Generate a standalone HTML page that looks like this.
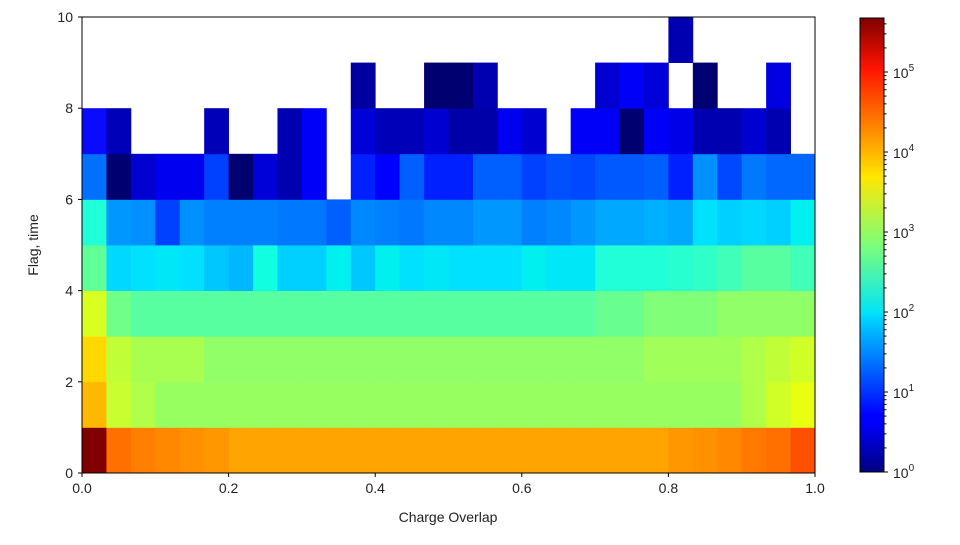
<!DOCTYPE html>
<html><head><meta charset="utf-8"><style>
body{margin:0;background:#fff;}
svg text{font-family:"Liberation Sans",sans-serif;fill:#222;}
</style></head><body>
<svg id="s" width="960" height="540" xmlns="http://www.w3.org/2000/svg">
<defs><linearGradient id="jet" x1="0" y1="1" x2="0" y2="0">
<stop offset="0" stop-color="#00007f"/><stop offset="0.11" stop-color="#0000ff"/>
<stop offset="0.125" stop-color="#0000ff"/><stop offset="0.34" stop-color="#00d4ff"/>
<stop offset="0.35" stop-color="#00e4f8"/><stop offset="0.5" stop-color="#7dff7a"/>
<stop offset="0.65" stop-color="#ffe600"/><stop offset="0.89" stop-color="#ff1300"/>
<stop offset="1" stop-color="#7f0000"/></linearGradient></defs>
<g id="cells"></g>
<rect x="82" y="17" width="733" height="456" fill="none" stroke="#000" stroke-width="1"/>
<rect x="860" y="18" width="24" height="454" fill="url(#jet)" stroke="#000" stroke-width="1"/>
<g id="ax"></g>
<text x="448" y="522" font-size="14" text-anchor="middle">Charge Overlap</text>
<text transform="translate(38,245) rotate(-90)" font-size="14" text-anchor="middle">Flag, time</text>
</svg>
<script>
const E=null;
const rows=[
// row0
["#800000","#ff7000","#ff8000","#ff8800","#ff9000","#ff9800"].concat(Array(18).fill("#ffa400")).concat(["#ff9800","#ff9000","#ff8800","#ff7800","#ff7000","#ff5000"]),
// row1
["#ffb800","#c8ff30","#b0ff48"].concat(Array(24).fill("#98ff60")).concat(["#b0ff48","#d0ff28","#e8ff10"]),
// row2
["#ffd800","#c0ff38","#a8ff50","#a8ff50","#a8ff50"].concat(Array(18).fill("#90ff68")).concat(["#a0ff58","#a0ff58","#a0ff58","#a0ff58","#b0ff48","#c0ff38","#d0ff28"]),
// row3
["#d8ff20","#70ff88"].concat(Array(19).fill("#58ffa0")).concat(["#68ff90","#68ff90","#80ff78","#80ff78","#80ff78","#90ff68","#90ff68","#90ff68","#90ff68"]),
// row4
["#60ff98","#00d8ff","#00e0ff","#00e8f8","#00e0ff","#00c8ff","#00b8ff","#10ffe0","#00d0ff","#00d0ff","#00f0f0","#00c8ff","#00f0f0","#00e0ff","#00e8f8","#00e0ff","#00e0ff","#00e0ff","#00f0f0","#00e8f8","#00e8f8","#20ffd8","#20ffd8","#20ffd8","#28ffd0","#30ffc8","#40ffb8","#58ffa0","#58ffa0","#40ffb8"],
// row5
["#20ffd8","#0098ff","#0090ff","#0040ff","#0090ff","#0080ff","#0080ff","#0080ff","#0078ff","#0078ff","#0060ff","#0088ff","#0080ff","#0078ff","#0088ff","#0088ff","#0098ff","#0098ff","#0080ff","#0088ff","#0098ff","#00a8ff","#00a8ff","#00b0ff","#00a8ff","#00e0ff","#00d0ff","#00d8ff","#00d0ff","#00f0f0"],
// row6
["#0070ff","#000070","#0000d0","#0000f0","#0000f0","#0040ff","#000070","#0000d8","#0000b0","#0000f8",E,"#0020ff","#0000ff","#0060ff","#0020ff","#0020ff","#0060ff","#0060ff","#0040ff","#0050ff","#0048ff","#0058ff","#0058ff","#0060ff","#0020ff","#0090ff","#0048ff","#0078ff","#0068ff","#0068ff"],
// row7
["#0a0aff","#0000b8",E,E,E,"#0000b8",E,E,"#0000b0","#0000f8",E,"#0000d8","#0000b8","#0000b8","#0000d0","#0000a8","#0000a8","#0000f0","#0000d0",E,"#0000f8","#0000f8","#000070","#0000f8","#0000e8","#0000b0","#0000b0","#0000d0","#0000b0",E],
// row8
[E,E,E,E,E,E,E,E,E,E,E,"#0000a0",E,E,"#000070","#000070","#0000b0",E,E,E,E,"#0000d0","#0000f8","#0000d8",E,"#000070",E,E,"#0000e0",E],
// row9
Array(24).fill(E).concat(["#0000b0",E,E,E,E,E])
];
let h='';const cw=733/30,rh=45.6;
rows.forEach((r,j)=>r.forEach((c,i)=>{if(c){const x=82+i*cw,y=473-(j+1)*rh;
h+=`<rect x="${x.toFixed(2)}" y="${y.toFixed(2)}" width="${(cw+0.4).toFixed(2)}" height="${(rh+0.4).toFixed(2)}" fill="${c}"/>`;}}));
document.getElementById('cells').innerHTML=h;
let a='';
for(let k=0;k<=5;k++){const x=82+k*733/5;a+=`<line x1="${x}" y1="473" x2="${x}" y2="477" stroke="#000"/><text x="${x}" y="493" font-size="14" text-anchor="middle">${(k*0.2).toFixed(1)}</text>`;}
for(let k=0;k<=5;k++){const y=473-k*91.2;a+=`<line x1="78" y1="${y}" x2="82" y2="${y}" stroke="#000"/><text x="73" y="${y+5}" font-size="14" text-anchor="end">${k*2}</text>`;}
for(let k=0;k<=5;k++){const y=472-k*80;a+=`<line x1="884" y1="${y}" x2="888" y2="${y}" stroke="#000"/><text x="893" y="${y+6}" font-size="14">10<tspan dy="-7" font-size="10">${k}</tspan></text>`;
 if(k<6)for(let m=2;m<10;m++){const yy=y-Math.log10(m)*80;if(yy>18)a+=`<line x1="884" y1="${yy}" x2="886.5" y2="${yy}" stroke="#000"/>`;}}
document.getElementById('ax').innerHTML=a;
</script>
</body></html>
